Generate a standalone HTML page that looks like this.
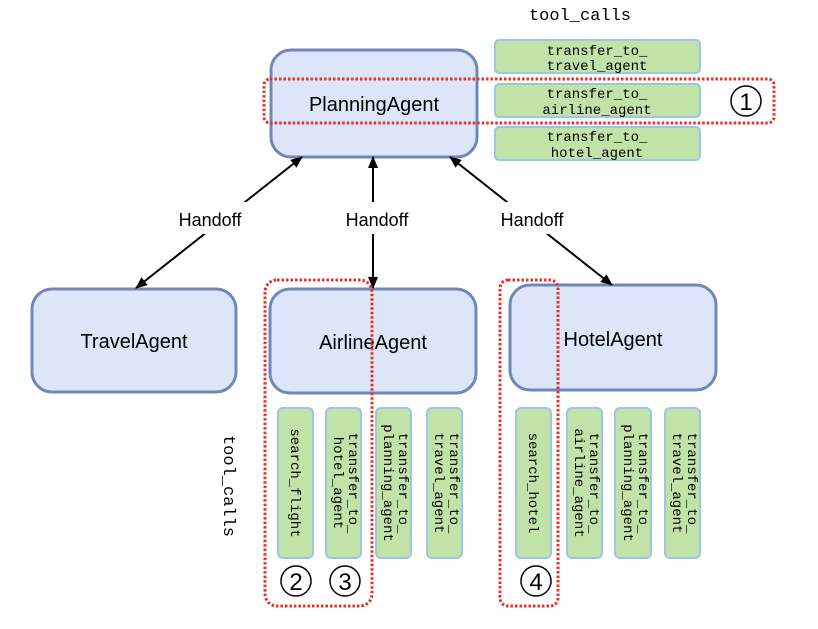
<!DOCTYPE html>
<html><head><style>body{margin:0;background:#fff}svg{display:block}</style></head><body>
<svg width="818" height="629" viewBox="0 0 818 629" xmlns="http://www.w3.org/2000/svg" font-family="Liberation Sans, sans-serif">
<defs><marker id="a" markerWidth="12" markerHeight="10" refX="11" refY="5" orient="auto-start-reverse" markerUnits="userSpaceOnUse"><path d="M0,0 L12,5 L0,10 z" fill="#000"/></marker></defs>
<g fill="#dce6f8" stroke="#7088b8" stroke-width="3">
<rect x="271" y="50" width="206" height="107" rx="20"/>
<rect x="32" y="289" width="204" height="103" rx="20"/>
<rect x="270" y="289" width="206" height="104" rx="20"/>
<rect x="510" y="285" width="206" height="105" rx="20"/>
</g>
<g font-size="20" text-anchor="middle" fill="#000">
<text x="374" y="111">PlanningAgent</text>
<text x="134" y="348">TravelAgent</text>
<text x="373" y="349">AirlineAgent</text>
<text x="613" y="346">HotelAgent</text>
</g>
<g stroke="#000" stroke-width="2" fill="none">
<line x1="302" y1="157" x2="136" y2="288" marker-start="url(#a)" marker-end="url(#a)"/>
<line x1="373" y1="157" x2="373" y2="288" marker-start="url(#a)" marker-end="url(#a)"/>
<line x1="450" y1="157" x2="612" y2="285" marker-start="url(#a)" marker-end="url(#a)"/>
</g>
<g fill="#fff"><rect x="168" y="202" width="84" height="32"/><rect x="334" y="202" width="86" height="32"/><rect x="490" y="202" width="86" height="32"/></g>
<g font-size="18" text-anchor="middle"><text x="210" y="226">Handoff</text><text x="377" y="226">Handoff</text><text x="532" y="226">Handoff</text></g>
<g fill="#c2e3a8" stroke="#9bc6e8" stroke-width="2">
<rect x="495" y="40" width="205" height="33" rx="4"/><rect x="495" y="84" width="205" height="33" rx="4"/><rect x="495" y="127" width="205" height="33" rx="4"/>
<rect x="278" y="408" width="35" height="150" rx="5"/><rect x="326" y="408" width="35" height="150" rx="5"/><rect x="376" y="408" width="35" height="150" rx="5"/><rect x="427" y="408" width="35" height="150" rx="5"/>
<rect x="516" y="408" width="35" height="150" rx="5"/><rect x="567" y="408" width="35" height="150" rx="5"/><rect x="615" y="408" width="36" height="150" rx="5"/><rect x="665" y="408" width="35" height="150" rx="5"/>
</g>
<g font-family="Liberation Mono, monospace" font-size="14" text-anchor="middle">
<text x="597" y="55">transfer_to_</text><text x="597" y="70">travel_agent</text>
<text x="597" y="98">transfer_to_</text><text x="597" y="114">airline_agent</text>
<text x="597" y="141">transfer_to_</text><text x="597" y="157">hotel_agent</text>
<text x="580" y="20" font-size="17">tool_calls</text>
</g>
<g font-family="Liberation Mono, monospace" font-size="14" text-anchor="middle">
<text transform="translate(291,483) rotate(90)">search_flight</text>
<text transform="translate(349,483) rotate(90)">transfer_to_</text><text transform="translate(334,483) rotate(90)">hotel_agent</text>
<text transform="translate(399,483) rotate(90)">transfer_to_</text><text transform="translate(384,483) rotate(90)">planning_agent</text>
<text transform="translate(450,483) rotate(90)">transfer_to_</text><text transform="translate(435,483) rotate(90)">travel_agent</text>
<text transform="translate(529,483) rotate(90)">search_hotel</text>
<text transform="translate(590,483) rotate(90)">transfer_to_</text><text transform="translate(575,483) rotate(90)">airline_agent</text>
<text transform="translate(639,483) rotate(90)">transfer_to_</text><text transform="translate(624,483) rotate(90)">planning_agent</text>
<text transform="translate(688,483) rotate(90)">transfer_to_</text><text transform="translate(673,483) rotate(90)">travel_agent</text>
<text transform="translate(224,486) rotate(90)" font-size="17">tool_calls</text>
</g>
<g fill="none" stroke="#e8302a" stroke-width="3" stroke-dasharray="2.5 2">
<rect x="264" y="79" width="510" height="44" rx="6"/>
<rect x="265" y="280" width="107" height="326" rx="12"/>
<rect x="500" y="280" width="58" height="326" rx="8"/>
</g>
<g fill="none" stroke="#000" stroke-width="1.5">
<circle cx="746" cy="101" r="15"/><circle cx="296" cy="581" r="15"/><circle cx="345" cy="581" r="15"/><circle cx="536" cy="581" r="15"/>
</g>
<g font-size="24" text-anchor="middle"><text x="746" y="110">1</text><text x="296" y="590">2</text><text x="345" y="590">3</text><text x="536" y="590">4</text></g>
</svg>
</body></html>
